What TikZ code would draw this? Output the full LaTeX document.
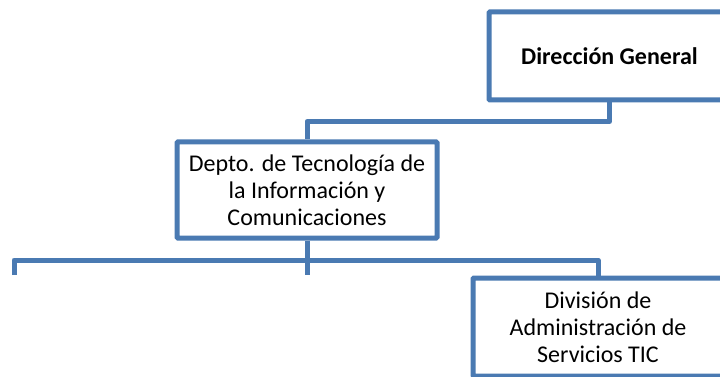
\documentclass[tikz,border=0pt]{standalone}
\usepackage{fontspec}
\setmainfont{Carlito}
\usepackage{tikz}
\usetikzlibrary{positioning}

\definecolor{orgblue}{RGB}{74,122,178}

\begin{document}
\begin{tikzpicture}[x=1pt, y=-1pt, font=\fontsize{24}{27}\selectfont,
    unit/.style={rectangle, draw=orgblue, line width=5pt, rounded corners=1pt, fill=white, align=center, inner sep=0pt},
    conn/.style={draw=orgblue, line width=5pt, line join=round}]
    \clip (0,0) rectangle (720,377);

    \node [unit, minimum width=241pt, minimum height=88pt, font=\fontsize{24}{27}\selectfont\bfseries] (dg) at (609.5,56) {Dirección General};
    \node [unit, minimum width=260pt, minimum height=96pt] (tic) at (307,190) {Depto. de Tecnología de\\la Información y\\Comunicaciones};
    \node [unit, minimum width=250pt, minimum height=98pt] (adm) at (598,327) {División de\\Administración de\\Servicios TIC};

    \coordinate (bus) at (307,260);
    \coordinate (left) at (14,275);
    \coordinate (mid) at (307,275);

    \path [conn] (dg.south) -- ++(0,19) -| (tic.north);
    \path [conn] (tic.south) -- (mid);
    \path [conn] (left) |- (bus) -| (adm.north);
\end{tikzpicture}
\end{document}
